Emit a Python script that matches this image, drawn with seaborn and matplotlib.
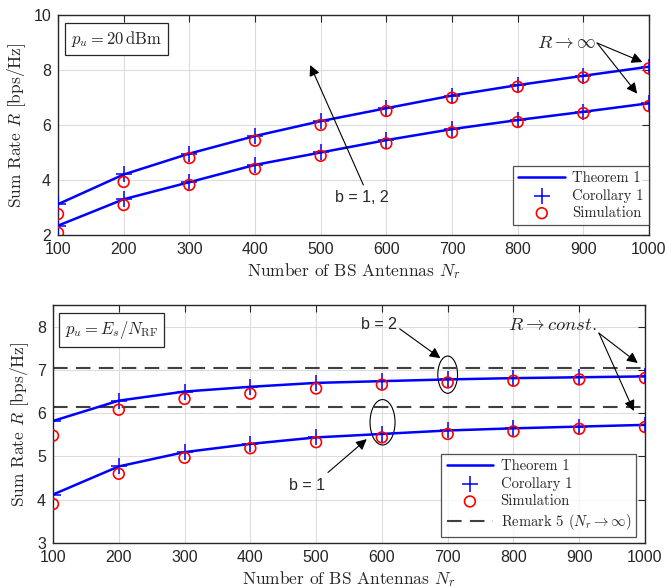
import numpy as np
import pandas as pd
import matplotlib
matplotlib.use("Agg")
import matplotlib.pyplot as plt
import seaborn as sns
from matplotlib.patches import Ellipse

# ---------------- data ----------------
antennas = [100, 200, 300, 400, 500, 600, 700, 800, 900, 1000]

# top panel: p_u = 20 dBm
top_thm_b2 = [3.12, 4.20, 4.96, 5.60, 6.14, 6.61, 7.07, 7.45, 7.79, 8.12]
top_sim_b2 = [2.76, 3.93, 4.80, 5.43, 6.00, 6.51, 6.99, 7.39, 7.73, 8.06]
top_thm_b1 = [2.34, 3.30, 3.92, 4.55, 5.00, 5.45, 5.85, 6.18, 6.48, 6.79]
top_sim_b1 = [2.08, 3.09, 3.82, 4.40, 4.88, 5.33, 5.73, 6.11, 6.43, 6.69]

# bottom panel: p_u = E_s / N_RF
bot_thm_b2 = [5.82, 6.29, 6.50, 6.61, 6.70, 6.74, 6.78, 6.81, 6.83, 6.85]
bot_sim_b2 = [5.48, 6.08, 6.33, 6.45, 6.57, 6.66, 6.71, 6.75, 6.78, 6.81]
bot_thm_b1 = [4.12, 4.77, 5.10, 5.29, 5.44, 5.52, 5.60, 5.65, 5.69, 5.73]
bot_sim_b1 = [3.90, 4.60, 4.97, 5.19, 5.33, 5.44, 5.52, 5.58, 5.64, 5.68]
remark5_b2 = 7.04
remark5_b1 = 6.14

xticks = [100, 200, 300, 400, 500, 600, 700, 800, 900, 1000]
top_yticks = [2, 4, 6, 8, 10]
bot_yticks = [3, 4, 5, 6, 7, 8]

# ---------------- style ----------------
sns.set_style("white")
plt.rcParams["font.family"] = ["Liberation Sans", "DejaVu Sans"]
plt.rcParams["mathtext.fontset"] = "cm"
serif = ["cmr10", "DejaVu Serif"]

fig = plt.figure(figsize=(6.68, 5.88), dpi=100)
W, H = 668, 588
ax1 = fig.add_axes([58 / W, 1 - 235 / H, (649 - 58) / W, (235 - 15) / H])
ax2 = fig.add_axes([53 / W, 1 - 543 / H, (645 - 53) / W, (543 - 305) / H])

BLUE = "#0000ff"
RED = "#ff0000"


def draw_series(ax, thm, sim, first):
    df = pd.DataFrame({"N": antennas, "thm": thm, "sim": sim})
    sns.lineplot(data=df, x="N", y="thm", ax=ax, color=BLUE, lw=1.8,
                 label="Theorem 1" if first else None, legend=False)
    sns.scatterplot(data=df, x="N", y="thm", ax=ax, marker="+", color=BLUE,
                    s=140, linewidth=1.1, zorder=4,
                    label="Corollary 1" if first else None, legend=False)
    sns.scatterplot(data=df, x="N", y="sim", ax=ax, marker="o",
                    facecolors="none", edgecolor=RED, s=60, linewidth=1.2,
                    zorder=5, label="Simulation" if first else None, legend=False)


def style_axes(ax, yticks, ylim):
    ax.set_xlim(100, 1000)
    ax.set_ylim(*ylim)
    ax.set_xticks(xticks)
    ax.set_yticks(yticks)
    ax.grid(True, color="#dcdcdc", lw=0.8)
    ax.set_axisbelow(True)
    ax.tick_params(direction="in", length=5, width=0.8, colors="#262626",
                   labelsize=11.5, top=True, right=True)
    ax.tick_params(axis="x", pad=5)
    ax.tick_params(axis="y", pad=5)
    for sp in ax.spines.values():
        sp.set_color("#262626")
        sp.set_linewidth(1.0)
    ax.set_xlabel(r"Number of BS Antennas $N_r$", fontfamily=serif,
                  fontsize=12.5, color="#262626", labelpad=3)
    ax.set_ylabel(r"Sum Rate $R$ [bps/Hz]", fontfamily=serif,
                  fontsize=12.5, color="#262626", labelpad=4)


legkw = dict(prop={"family": serif, "size": 10.5}, frameon=True,
             fancybox=False, edgecolor="#262626", borderaxespad=0.0,
             handlelength=3.2, labelspacing=0.25, borderpad=0.35,
             handletextpad=0.5)

# ---------------- top panel ----------------
draw_series(ax1, top_thm_b2, top_sim_b2, True)
draw_series(ax1, top_thm_b1, top_sim_b1, False)
style_axes(ax1, top_yticks, (2, 10))

ax1.text(0.022, 0.935, r"$p_u = 20\,\mathrm{dBm}$", transform=ax1.transAxes,
         fontsize=12, va="top", ha="left",
         bbox=dict(boxstyle="square,pad=0.35", fc="white", ec="#262626", lw=0.9))

arrow = dict(arrowstyle="-|>", color="black", lw=0.8, mutation_scale=16,
             shrinkA=0, shrinkB=0)
ax1.annotate("", xy=(484, 8.18), xytext=(565, 3.82), arrowprops=arrow)
ax1.text(563, 3.35, "b = 1, 2", fontsize=11.5, ha="center", va="center")
ax1.text(920, 8.98, r"$R \rightarrow \infty$", fontsize=13.5, ha="right",
         va="center")
ax1.annotate("", xy=(990, 8.29), xytext=(921, 8.98), arrowprops=arrow)
ax1.annotate("", xy=(982, 7.14), xytext=(921, 8.98), arrowprops=arrow)

leg1 = ax1.legend(loc="lower right", bbox_to_anchor=(1.0, 0.045), **legkw)
leg1.get_frame().set_linewidth(0.9)

# ---------------- bottom panel ----------------
dfr = pd.DataFrame({"N": [100, 1000], "r2": [remark5_b2] * 2,
                    "r1": [remark5_b1] * 2})
sns.lineplot(data=dfr, x="N", y="r2", ax=ax2, color="#404040", lw=1.5,
             label="Remark 5 ($N_r \\rightarrow \\infty$)", legend=False)
sns.lineplot(data=dfr, x="N", y="r1", ax=ax2, color="#404040", lw=1.5,
             legend=False)
for ln in ax2.get_lines():
    ln.set_dashes([7, 4])
draw_series(ax2, bot_thm_b2, bot_sim_b2, True)
draw_series(ax2, bot_thm_b1, bot_sim_b1, False)
style_axes(ax2, bot_yticks, (3, 8.5))

ax2.text(0.02, 0.94, r"$p_u = E_s/N_{\mathrm{RF}}$", transform=ax2.transAxes,
         fontsize=12, va="top", ha="left",
         bbox=dict(boxstyle="square,pad=0.35", fc="white", ec="#262626", lw=0.9))

ax2.add_patch(Ellipse((700, 6.89), 30, 0.86, fill=False, ec="black", lw=0.8))
ax2.add_patch(Ellipse((601, 5.79), 38, 1.05, fill=False, ec="black", lw=0.8))

ax2.text(595, 8.05, "b = 2", fontsize=11.5, ha="center", va="center")
ax2.annotate("", xy=(689, 7.27), xytext=(627, 7.95), arrowprops=arrow)
ax2.text(486, 4.32, "b = 1", fontsize=11.5, ha="center", va="center")
ax2.annotate("", xy=(577, 5.40), xytext=(518, 4.63), arrowprops=arrow)
ax2.text(928, 8.03, r"$R \rightarrow const.$", fontsize=13.5, ha="right",
         va="center")
ax2.annotate("", xy=(989, 7.16), xytext=(930, 7.85), arrowprops=arrow)
ax2.annotate("", xy=(983, 6.05), xytext=(930, 7.85), arrowprops=arrow)

h, l = ax2.get_legend_handles_labels()
order = [l.index("Theorem 1"), l.index("Corollary 1"), l.index("Simulation"),
         [i for i, s in enumerate(l) if s.startswith("Remark")][0]]
leg2 = ax2.legend([h[i] for i in order], [l[i] for i in order],
                  loc="lower right", bbox_to_anchor=(0.985, 0.025), **legkw)
leg2.get_frame().set_linewidth(0.9)

fig.savefig("out.png", dpi=100)
